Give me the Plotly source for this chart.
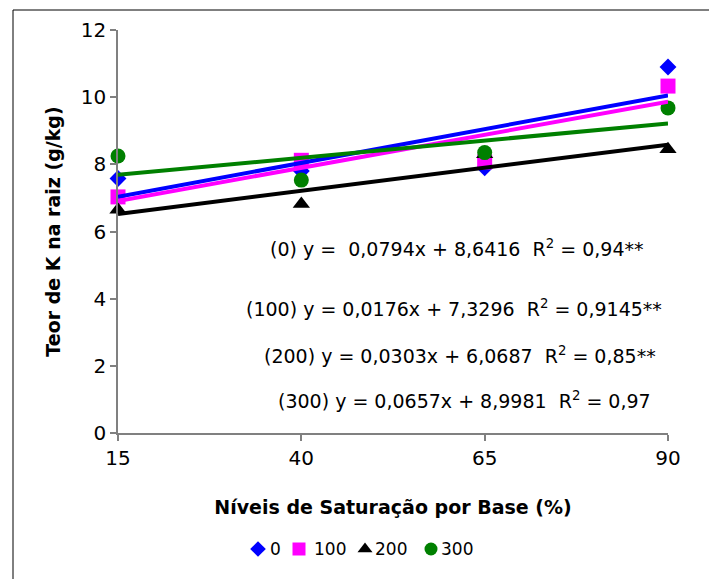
import numpy as np
import plotly.graph_objects as go

W, H = 709, 579

# Base saturation levels (%) and root K content (g/kg) for each K dose
saturacao = [15, 40, 65, 90]
doses = ["0", "100", "200", "300"]
teor_0 = [7.58, 7.80, 7.90, 10.90]
teor_100 = [7.03, 8.12, 8.07, 10.33]
teor_200 = [6.65, 6.82, 8.30, 8.45]
teor_300 = [8.25, 7.53, 8.35, 9.68]
series = [teor_0, teor_100, teor_200, teor_300]

equacoes = [
    "(0) y =\u00a0\u00a00,0794x + 8,6416\u00a0\u00a0R<sup>2</sup> = 0,94**",
    "(100) y = 0,0176x + 7,3296\u00a0\u00a0R<sup>2</sup> = 0,9145**",
    "(200) y = 0,0303x + 6,0687\u00a0\u00a0R<sup>2</sup> = 0,85**",
    "(300) y = 0,0657x + 8,9981\u00a0\u00a0R<sup>2</sup> = 0,97",
]
y_ticks = [0, 2, 4, 6, 8, 10, 12]
x_ticks = [15, 40, 65, 90]

# Styles
cores = ["#0000FF", "#FF00FF", "#000000", "#008000"]
simbolos = ["diamond", "square", "triangle-up", "circle"]
tamanhos = [13, 15, 15, 15]
tamanhos_leg = [12, 13, 13, 13]
FONT = "DejaVu Sans"

# Layout in pixels
plot_l, plot_r, plot_t, plot_b = 118, 668, 30, 433
eq_pos = [(268, 248), (244, 308), (262, 355), (276, 400)]
leg_mark_x = [258, 299, 365, 431]
leg_text_x = [268, 312, 373, 439]
leg_y = 549


def px(x):
    return x / W


def py(y):
    return 1 - y / H


fig = go.Figure()

# Data markers
for vals, nome, cor, sim, tam in zip(series, doses, cores, simbolos, tamanhos):
    fig.add_trace(go.Scatter(
        x=saturacao, y=vals, mode="markers", name=nome,
        marker=dict(symbol=sim, color=cor, size=tam, line=dict(width=0)),
        cliponaxis=False, showlegend=False,
    ))

# Linear trendlines fitted to each series
xs = np.array(saturacao, dtype=float)
for vals, cor in zip(series, cores):
    a, b = np.polyfit(xs, np.array(vals), 1)
    xl = np.array([xs.min(), xs.max()])
    fig.add_trace(go.Scatter(
        x=xl, y=a * xl + b, mode="lines",
        line=dict(color=cor, width=4), cliponaxis=False, showlegend=False,
    ))

# Legend keys on a pixel-scaled strip at the bottom
for xm, xt, nome, cor, sim, tam in zip(leg_mark_x, leg_text_x, doses, cores, simbolos, tamanhos_leg):
    fig.add_trace(go.Scatter(
        x=[xm], y=[leg_y], mode="markers", xaxis="x2", yaxis="y2",
        marker=dict(symbol=sim, color=cor, size=tam, line=dict(width=0)),
        cliponaxis=False, showlegend=False, hoverinfo="skip",
    ))
    fig.add_annotation(
        x=xt, y=leg_y, xref="x2", yref="y2", text=nome, showarrow=False,
        xanchor="left", yanchor="middle",
        font=dict(family=FONT, size=17, color="black"),
    )

for (ex, ey), txt in zip(eq_pos, equacoes):
    fig.add_annotation(
        x=px(ex), y=py(ey), xref="paper", yref="paper", text=txt,
        showarrow=False, xanchor="left", yanchor="middle",
        font=dict(family=FONT, size=19, color="black"),
    )

# Chart frame
frame_x, frame_y = px(13), py(10)
fig.add_shape(type="line", xref="paper", yref="paper", x0=frame_x, x1=frame_x,
              y0=0, y1=frame_y, line=dict(color="black", width=1))
fig.add_shape(type="line", xref="paper", yref="paper", x0=frame_x, x1=1,
              y0=frame_y, y1=frame_y, line=dict(color="black", width=1))

axis_common = dict(
    showgrid=False, zeroline=False, showline=True, linecolor="#808080",
    linewidth=1.5, ticks="outside", ticklen=6, tickwidth=1.5, tickcolor="#808080",
    tickfont=dict(family=FONT, size=20, color="black"), automargin=False,
)

fig.update_layout(
    width=W, height=H, autosize=False,
    margin=dict(l=0, r=0, t=0, b=0, autoexpand=False),
    paper_bgcolor="white", plot_bgcolor="rgba(0,0,0,0)",
    showlegend=False,
    xaxis=dict(
        domain=[px(plot_l), px(plot_r)], range=[15, 90],
        tickmode="array", tickvals=x_ticks, ticktext=[str(v) for v in x_ticks],
        title=dict(text="<b>Níveis de Saturação por Base (%)</b>",
                   font=dict(family=FONT, size=19, color="black"), standoff=32),
        anchor="y", **axis_common,
    ),
    yaxis=dict(
        domain=[py(plot_b), py(plot_t)], range=[0, 12],
        tickmode="array", tickvals=y_ticks, ticktext=[str(v) for v in y_ticks],
        title=dict(text="<b>Teor de K na raiz (g/kg)</b>",
                   font=dict(family=FONT, size=19, color="black"), standoff=15),
        anchor="x", **axis_common,
    ),
    xaxis2=dict(domain=[0, 1], range=[0, W], visible=False, anchor="y2", fixedrange=True),
    yaxis2=dict(domain=[0, py(521)], range=[H, 521], visible=False, anchor="x2", fixedrange=True),
)

fig.write_html("out.html")
